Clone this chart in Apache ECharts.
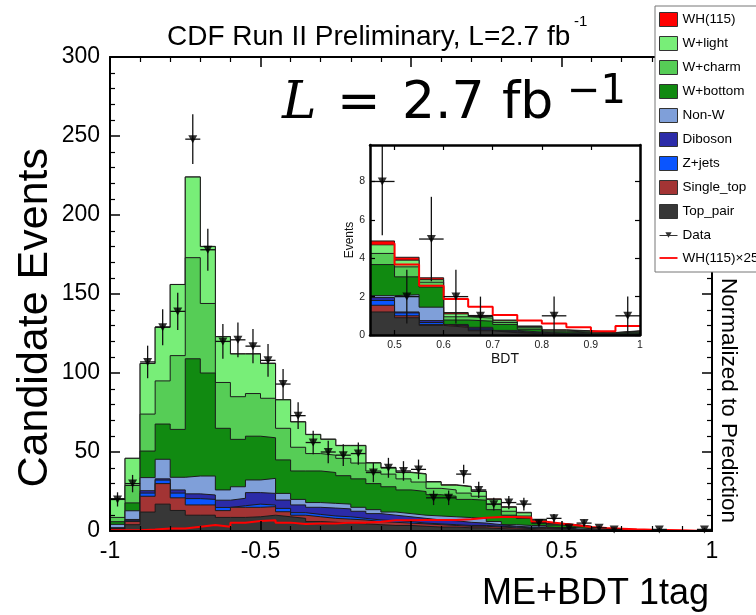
<!DOCTYPE html>
<html><head><meta charset="utf-8">
<script src="https://cdn.jsdelivr.net/npm/echarts@6/dist/echarts.min.js"></script>
<style>html,body{margin:0;padding:0;background:#fff}#c{width:756px;height:615px}</style>
</head><body><div id="c"></div>
<script>
// ---- bins (lower edges) ----
const binLow = [-1.00,-0.95,-0.90,-0.85,-0.80,-0.75,-0.70,-0.65,-0.60,-0.55,-0.50,-0.45,-0.40,-0.35,-0.30,-0.25,-0.20,-0.15,-0.10,-0.05,
                0.00,0.05,0.10,0.15,0.20,0.25,0.30,0.35,0.40,0.45,0.50,0.55,0.60,0.65,0.70,0.75,0.80,0.85,0.90,0.95];
const binTop = 1.0;
const insetFirstBin = 29; // BDT 0.45 .. 1.0

// ---- stacked backgrounds (events per bin) ----
const topPair   = [0.8,4.0,12,17,13,10,10,8.6,8.6,9,10,9,8,6,5.5,5,4.5,4,3.5,3.5,3,2.5,2.5,2,2,1.5,1.2,1,1.5,1.2,0.9,0.5,0.4,0.22,0.12,0.06,0.03,0.02,0.01,0.02];
const singleTop = [0.5,2.0,10,13,8,6.5,6.5,4.3,6.4,6,5.4,3.2,2,3,2.5,2.5,2.5,2,2,1.5,1.5,1.5,1,1,1,1,0.8,0.5,0.5,0.35,0.1,0.05,0.05,0.03,0.02,0.02,0.01,0.01,0.01,0.01];
const zJets     = [0.3,0.5,2,2.2,3,4,3.5,2,1,2,1,2.1,1.6,1.5,1.5,1.5,1,1,1,1,0.5,0.5,0.5,0.5,0.5,0.5,0.5,0.5,0.3,0.25,0.15,0.1,0.03,0.05,0.02,0.02,0.01,0.01,0.01,0.01];
const diboson   = [0.5,0.8,1.5,0.8,2,3,2.8,4.6,4.7,7.3,7.4,5.3,4.9,4.5,5,5,4.5,4,3.5,3,3,2.5,2.5,2,1.5,1,0.5,0.5,0.3,0.15,0.05,0.1,0.04,0.06,0.04,0.02,0.01,0.01,0.01,0.01];
const nonW      = [2.1,5.5,8.3,12.4,8,11.3,12,6.5,7.3,8,9.5,4.2,3.5,3,3,3,2.5,2.5,2,2,2,2.5,2.5,3,3,2,1,1,0.9,0.1,0.9,0.7,0.03,0.04,0.04,0.03,0.01,0.01,0,0.01];
const wBottom   = [1.7,5.0,16.8,22.3,30.3,74.2,65.2,39,30,27.7,25.7,21.2,18,20,19.5,18,18,16.5,16,15,15,13.5,13,11.5,11.5,7.5,6,4.5,2,1.62,0.93,1.05,0.23,0.32,0.31,0.15,0.08,0.06,0.04,0.06];
const wCharm    = [2.7,11,23.4,27.3,46.7,64,44,29,27,27,25,20,15,11,11,11,10,8,8,7,6,4,4,4,2.5,3.5,2.5,1.5,1,0.58,0.52,0.25,0.17,0.16,0.1,0.08,0.05,0.04,0.02,0.04];
const wLight    = [11.9,17.2,32,34,45,51,36,29,27,25,22,18,16,12,10,8,11,5,4,4,5,4,3,4,3,3,2.5,2,0.7,0.45,0.35,0.13,0.15,0.08,0.09,0.06,0.05,0.04,0.02,0.04];
const wh115     = [0.02,0.02,0.04,0.06,0.06,0.11,0.15,0.11,0.21,0.26,0.27,0.21,0.18,0.19,0.19,0.21,0.21,0.24,0.27,0.27,0.28,0.28,0.28,0.3,0.34,0.35,0.35,0.34,0.23,0.2,0.15,0.1,0.07,0.06,0.04,0.03,0.02,0.02,0.01,0.02];
// ---- signal x25 (red line) ----
const wh115x25  = [0.5,0.5,1.0,1.6,1.6,2.7,3.8,2.7,5.2,6.4,6.8,5.3,4.4,4.7,4.7,5.3,5.3,5.9,6.8,6.8,7.0,7.0,7.0,7.4,8.4,8.8,8.8,8.6,5.8,4.77,3.67,2.56,1.87,1.47,1.04,0.75,0.6,0.4,0.2,0.47];
// ---- observed data and errors ----
const observed  = [20,30,107,129,139,248,178,120,121,117,108,93,73,56,50,48,49,37,40,38,39,21,21,36,26,17,18,17,5,8,2,5,2,1,null,null,1,null,null,1];
const obsError  = [4.5,5.5,10.3,11.4,11.8,15.7,13.3,11,11,10.8,10.4,9.6,8.5,7.5,7.1,6.9,7,6.1,6.3,6.2,6.2,4.6,4.6,6,5.1,4.1,4.2,4.1,2.2,2.8,1.4,2.2,1.4,1,null,null,1,null,null,1];

// ---- tick labels ----
const insetXTicks = [0.5,0.6,0.7,0.8,0.9,1.0];
const insetYTicks = [0,2,4,6,8];

// stacking order: bottom -> top
const layers = [
  {name:'Top_pair',  data:topPair,   color:'#373737'},
  {name:'Single_top',data:singleTop, color:'#a33434'},
  {name:'Z+jets',    data:zJets,     color:'#0a55ff'},
  {name:'Diboson',   data:diboson,   color:'#2b2ba8'},
  {name:'Non-W',     data:nonW,      color:'#7f9fd9'},
  {name:'W+bottom',  data:wBottom,   color:'#118a11'},
  {name:'W+charm',   data:wCharm,    color:'#56cd56'},
  {name:'W+light',   data:wLight,    color:'#78ee78'},
  {name:'WH(115)',   data:wh115,     color:'#ff0000'}
];
// cumulative tops of the stack (the stacking itself)
const running = binLow.map(() => 0);
const cumTops = layers.map(L => L.data.map((v, i) => (running[i] += v)));

function upperEdge(i){ return i + 1 < binLow.length ? binLow[i + 1] : binTop; }
function stepPts(vals, from){
  const out = [];
  for (let i = from; i < vals.length; i++) out.push([binLow[i], vals[i]]);
  out.push([binTop, vals[vals.length - 1]]);
  return out;
}
function errItems(from){
  const out = [];
  for (let i = from; i < observed.length; i++) if (observed[i] != null) out.push([binLow[i], upperEdge(i), observed[i], obsError[i]]);
  return out;
}
function markerItems(from){
  const out = [];
  for (let i = from; i < observed.length; i++) if (observed[i] != null) out.push([(binLow[i] + upperEdge(i)) / 2, observed[i]]);
  return out;
}
function renderErr(params, api){
  const lo = api.value(0), hi = api.value(1), v = api.value(2), e = api.value(3);
  const xc = (lo + hi) / 2;
  const p = api.coord([xc, v]);
  const pl = api.coord([lo, v]), pr = api.coord([hi, v]);
  const pb = api.coord([xc, Math.max(v - e, 0)]), pt = api.coord([xc, v + e]);
  const cs = params.coordSys;
  const topY = Math.max(pt[1], cs.y);
  const st = {stroke:'#111', lineWidth:1.3};
  return {type:'group', children:[
    {type:'line', shape:{x1:p[0], y1:pb[1], x2:p[0], y2:topY}, style:st},
    {type:'line', shape:{x1:pl[0], y1:p[1], x2:pr[0], y2:p[1]}, style:st}
  ]};
}

const series = [];
function addStack(prefix, xi, yi, from){
  // draw from the top layer down so each lower layer paints over the one above it
  for (let k = layers.length - 1; k >= 0; k--) {
    const L = layers[k];
    series.push({
      name: prefix + L.name, type:'line', xAxisIndex:xi, yAxisIndex:yi, step:'end',
      symbol:'none', showSymbol:false, data: stepPts(cumTops[k], from), silent:true,
      lineStyle:{color:'#1c1c1c', width:1}, itemStyle:{color:L.color},
      areaStyle:{color:L.color, opacity:1, origin:'start'}, z: 3 + (layers.length - 1 - k), emphasis:{disabled:true}
    });
  }
  series.push({name: prefix + 'WH(115)×25', type:'line', xAxisIndex:xi, yAxisIndex:yi, step:'end', symbol:'none',
    data: stepPts(wh115x25, from), lineStyle:{color:'#ff0000', width:2}, itemStyle:{color:'#ff0000'}, z:15, silent:true});
  series.push({type:'custom', xAxisIndex:xi, yAxisIndex:yi, renderItem:renderErr, data: errItems(from),
    encode:{x:0, y:2}, z:16, silent:true});
  series.push({name: prefix + 'Data', type:'scatter', xAxisIndex:xi, yAxisIndex:yi, data: markerItems(from),
    symbol:'triangle', symbolRotate:180, symbolSize:[9,8], itemStyle:{color:'#000'}, z:17, silent:true});
}
addStack('', 0, 0, 0);
addStack('in_', 2, 2, insetFirstBin);

const FONT = 'Liberation Sans';
const lineBlack = {color:'#000', width:2};
function mainX(pos, labels){
  return {gridIndex:0, type:'value', position:pos, min:-1, max:1, interval:0.5, z:20,
    axisLine:{show:true, onZero:false, lineStyle:lineBlack},
    axisTick:{show:true, inside:true, length:10, lineStyle:{color:'#000', width:1.5}},
    minorTick:{show:true, splitNumber:5, length:5, lineStyle:{color:'#000', width:1.2}},
    splitLine:{show:false},
    axisLabel:{show:labels, fontFamily:FONT, fontSize:23, color:'#000', margin:9}};
}
function mainY(pos, labels){
  return {gridIndex:0, type:'value', position:pos, min:0, max:300, interval:50, z:20,
    axisLine:{show:true, onZero:false, lineStyle:lineBlack},
    axisTick:{show:true, inside:true, length:10, lineStyle:{color:'#000', width:1.5}},
    minorTick:{show:true, splitNumber:5, length:5, lineStyle:{color:'#000', width:1.2}},
    splitLine:{show:false},
    axisLabel:{show:labels, fontFamily:FONT, fontSize:23, color:'#000', margin:10}};
}
function insetX(pos, labels){
  return {gridIndex:1, type:'value', position:pos, min:0.45, max:1, z:20,
    name: labels ? 'BDT' : '', nameLocation:'middle', nameGap:12,
    nameTextStyle:{fontFamily:FONT, fontSize:14, color:'#111'},
    axisLine:{show:true, onZero:false, lineStyle:{color:'#000', width:2.5}},
    axisTick:{show:true, inside:true, length:5, customValues:insetXTicks, lineStyle:{color:'#000', width:1.2}},
    splitLine:{show:false},
    axisLabel:{show:labels, customValues:insetXTicks, fontFamily:FONT, fontSize:10.5, color:'#222', margin:5}};
}
function insetY(pos, labels){
  return {gridIndex:1, type:'value', position:pos, min:0, max:9.9, z:20,
    name: labels ? 'Events' : '', nameLocation:'middle', nameGap:14,
    nameTextStyle:{fontFamily:FONT, fontSize:12, color:'#111'},
    axisLine:{show:true, onZero:false, lineStyle:{color:'#000', width:2.5}},
    axisTick:{show:true, inside:true, length:5, customValues:insetYTicks, lineStyle:{color:'#000', width:1.2}},
    splitLine:{show:false},
    axisLabel:{show:labels, customValues:insetYTicks, fontFamily:FONT, fontSize:10.5, color:'#222', margin:5}};
}

const legendItems = layers.slice().reverse().map(L => ({name:L.name, icon:'rect',
  itemStyle:{color:L.color, borderColor:'#333', borderWidth:1}}));
legendItems.push({name:'Data', icon:'path://M0,5h20v1.2h-20z M6.5,2h7l-3.5,6z', itemStyle:{color:'#000', borderWidth:0}});
legendItems.push({name:'WH(115)×25', icon:'path://M0,0h20v2h-20z', itemStyle:{color:'#ff0000', borderWidth:0}});

function txt(x, y, text, size, opts){
  opts = opts || {};
  return {type:'text', x:x, y:y, rotation:opts.rot || 0, z:opts.z || 50, silent:true,
    style:{text:text, fontFamily:opts.family || FONT, fontSize:size, fontStyle:opts.style || 'normal',
      fill:'#000', align:opts.align || 'left', verticalAlign:'middle'}};
}

const chart = echarts.init(document.getElementById('c'), null, {renderer:'canvas'});
chart.setOption({
  animation:false,
  backgroundColor:'#fff',
  grid:[
    {left:110, top:57, right:44, bottom:84},
    {left:370, top:145, width:270, height:190, show:true, backgroundColor:'#fff', borderWidth:0}
  ],
  xAxis:[mainX('bottom', true), mainX('top', false), insetX('bottom', true), insetX('top', false)],
  yAxis:[mainY('left', true), mainY('right', false), insetY('left', true), insetY('right', false)],
  legend:{
    orient:'vertical', left:655, top:6, itemWidth:18, itemHeight:14, itemGap:9,
    padding:[6,6,7,4], backgroundColor:'#fff', borderColor:'#777', borderWidth:1,
    textStyle:{fontFamily:FONT, fontSize:13.5, color:'#000'}, selectedMode:false, z:40,
    data:legendItems
  },
  graphic:[
    txt(167, 37, 'CDF Run II Preliminary, L=2.7 fb', 28),
    txt(574, 22, '-1', 15),
    txt(282, 104, 'L', 52, {family:'DejaVu Serif', style:'italic'}),
    txt(337, 104, '=', 52, {family:'DejaVu Sans'}),
    txt(402, 104, '2.7', 52, {family:'DejaVu Sans'}),
    txt(502, 104, 'fb', 52, {family:'DejaVu Sans'}),
    txt(567, 93, '\u22121', 40, {family:'DejaVu Sans'}),
    txt(35, 148, 'Candidate Events', 43, {rot:Math.PI/2, align:'right'}),
    txt(709, 594, 'ME+BDT 1tag', 36, {align:'right'}),
    txt(728, 523, 'Normalized to Prediction', 22.5, {rot:-Math.PI/2, align:'right', z:30})
  ],
  series:series
});
</script>
</body></html>
